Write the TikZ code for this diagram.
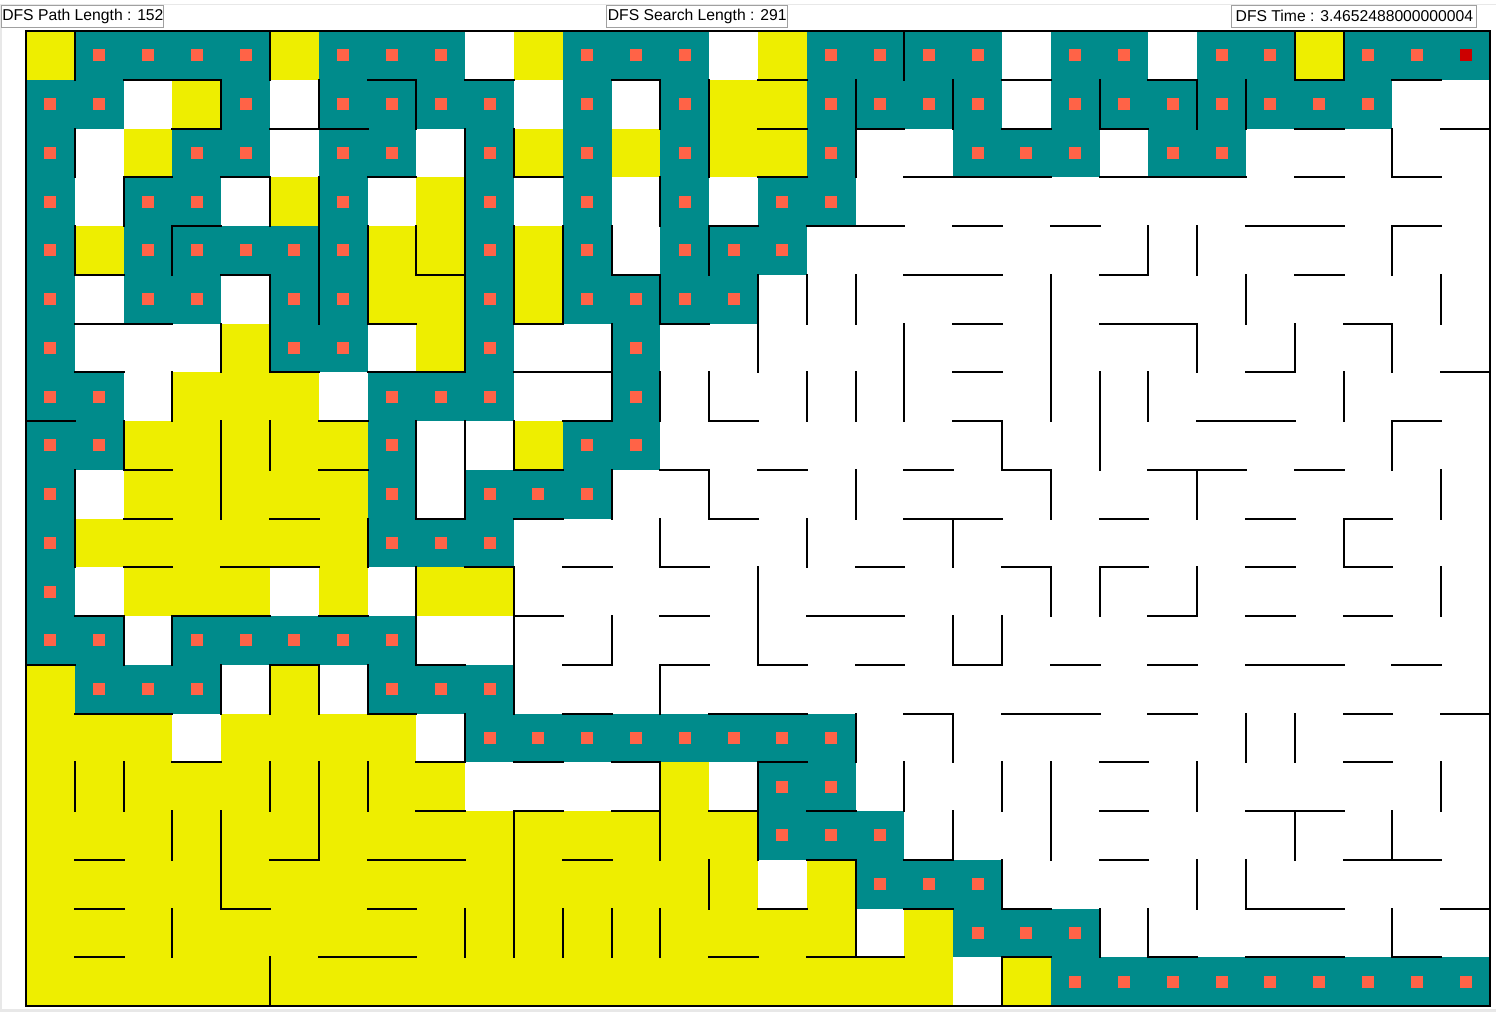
\documentclass[tikz,border=0pt]{standalone}
\usepackage{fontspec}
\setmainfont{Liberation Sans}
\definecolor{pathteal}{RGB}{0,139,139}
\definecolor{visyellow}{RGB}{238,238,0}
\definecolor{dotred}{RGB}{255,99,71}
\definecolor{endred}{RGB}{204,0,0}
\definecolor{boxgray}{RGB}{160,160,160}
\definecolor{edgegray}{RGB}{232,232,232}
\tikzset{
  wall/.style={line width=2pt, line cap=rect, black},
  lbl/.style={draw=boxgray, line width=0.9pt, fill=white, inner sep=0pt, minimum height=22pt, font=\fontsize{15.7}{18}\selectfont, text=black},
}
\begin{document}
\begin{tikzpicture}[x=1pt,y=-1pt]
\useasboundingbox (0,0) rectangle (1496,1012);
\fill[white] (0,0) rectangle (1496,1012);
\draw[edgegray, line width=1pt] (0,4.5) -- (1496,4.5);
\fill[edgegray] (0,1009) rectangle (1496,1012);
\fill[edgegray] (0,4.5) rectangle (1.5,1012);
\begin{scope}[shift={(26pt,-31pt)},x=48.8pt,y=-48.75pt]
  % visited (yellow) cells: row/first/last
  \foreach \r/\a/\b in {0/0/0,0/5/5,0/10/10,0/15/15,0/26/26,
    1/3/3,1/14/15,
    2/2/2,2/10/10,2/12/12,2/14/15,
    3/5/5,3/8/8,
    4/1/1,4/7/8,4/10/10,
    5/7/8,5/10/10,
    6/4/4,6/8/8,
    7/3/5,
    8/2/6,8/10/10,
    9/2/6,
    10/1/6,
    11/2/4,11/6/6,11/8/9,
    13/0/0,13/5/5,
    14/0/2,14/4/7,
    15/0/8,15/13/13,
    16/0/14,
    17/0/14,17/16/16,
    18/0/16,18/18/18,
    19/0/18,19/20/20}
    {\fill[visyellow] (\a,\r) rectangle (\b+1,\r+1);}
  % path (teal) cells with markers
  \foreach \r/\a/\b in {0/1/4,0/6/8,0/11/13,0/16/19,0/21/22,0/24/25,0/27/29,
    1/0/1,1/4/4,1/6/9,1/11/11,1/13/13,1/16/19,1/21/27,
    2/0/0,2/3/4,2/6/7,2/9/9,2/11/11,2/13/13,2/16/16,2/19/21,2/23/24,
    3/0/0,3/2/3,3/6/6,3/9/9,3/11/11,3/13/13,3/15/16,
    4/0/0,4/2/6,4/9/9,4/11/11,4/13/15,
    5/0/0,5/2/3,5/5/6,5/9/9,5/11/14,
    6/0/0,6/5/6,6/9/9,6/12/12,
    7/0/1,7/7/9,7/12/12,
    8/0/1,8/7/7,8/11/12,
    9/0/0,9/7/7,9/9/11,
    10/0/0,10/7/9,
    11/0/0,
    12/0/1,12/3/7,
    13/1/3,13/7/9,
    14/9/16,
    15/15/16,
    16/15/17,
    17/17/19,
    18/19/21,
    19/21/29}
    {\fill[pathteal] (\a,\r) rectangle (\b+1,\r+1);
     \foreach \c in {\a,...,\b}
       {\fill[dotred] (\c+0.5,\r+0.5) ++(-6pt,-6pt) rectangle ++(12pt,12pt);}}
  \fill[endred] (29.5,0.5) ++(-6pt,-6pt) rectangle ++(12pt,12pt);
  % horizontal walls: row boundary / columns
  \foreach \r/\cols in {
    1/{2,3,7,9,12,15,20,23,26,28},
    2/{3,5,6,15,17,20,22,26,29},
    3/{2,4,7,10,15,18,19,20,22,23,24,26,28},
    4/{3,14,16,17,19,21,25,26,28},
    5/{1,4,8,12,18,19,22,26},
    6/{1,2,7,10,13,19,22,23,27},
    7/{1,5,7,8,10,11,19,25,29},
    8/{0,6,11,14,19,24,25,28},
    9/{2,6,10,13,15,18,20,23,24,26},
    10/{2,5,8,10,14,18,19,22,25,27},
    11/{2,4,5,9,11,13,17,20,22,25,27},
    12/{1,3,4,6,10,13,16,17,23,25,27},
    13/{0,5,8,11,13,15,17,19,21,23,25,26,28},
    14/{1,2,7,11,14,15,18,20,21,23,27,29},
    15/{3,8,10,12,15,22,27},
    16/{8,10,12,14,16,22,25,26},
    17/{1,5,7,8,11,16,18,22,27,28},
    18/{1,4,7,15,18,20,25,26,29},
    19/{1,6,7,14,16,17,20,23,25,26,28}}
    {\foreach \c in \cols {\draw[wall] (\c,\r) -- (\c+1,\r);}}
  % vertical walls: column boundary / rows
  \foreach \c/\rows in {
    1/{0,2,4,9,10,15},
    2/{3,8,12,15},
    3/{4,7,12,16,18},
    4/{1,6,8,9,13,16,17},
    5/{0,3,5,6,8,13,15,19},
    6/{1,3,4,5,13,15,16},
    7/{4,5,10,13,15},
    8/{1,4,8,9,11,12},
    9/{2,3,4,5,6,8,9,14,18},
    10/{2,4,5,8,11,12,13,16,17,18},
    11/{4,5,18},
    12/{4,6,7,9,12,18},
    13/{1,3,5,7,10,13,15,16,18},
    14/{1,2,4,7,9,17},
    15/{5,6,11,12,15,16},
    16/{5,7,10},
    17/{1,2,5,7,9,14,17,18},
    18/{0,6,7,15},
    19/{1,10,12,14,16},
    20/{8,12,15,17,19},
    21/{5,6,7,9,11,15,16},
    22/{1,7,8,11,18},
    23/{4,7,18},
    24/{1,4,6,9,11,15,17},
    25/{1,5,14,17},
    26/{0,6,14,16},
    27/{0,7,10},
    28/{2,4,6,8,16,18},
    29/{5,9,11,15}}
    {\foreach \r in \rows {\draw[wall] (\c,\r) -- (\c,\r+1);}}
  \draw[wall] (0,0) rectangle (30,20);
\end{scope}
\node[lbl, minimum width=162pt] (pathlen) at (82.9,16) {DFS Path Length : 152};
\node[lbl, minimum width=181pt] (searchlen) at (697.2,16) {DFS Search Length : 291};
\node[lbl, minimum width=245pt] (dfstime) at (1354.4,16) {DFS Time : 3.4652488000000004};
\end{tikzpicture}
\end{document}
